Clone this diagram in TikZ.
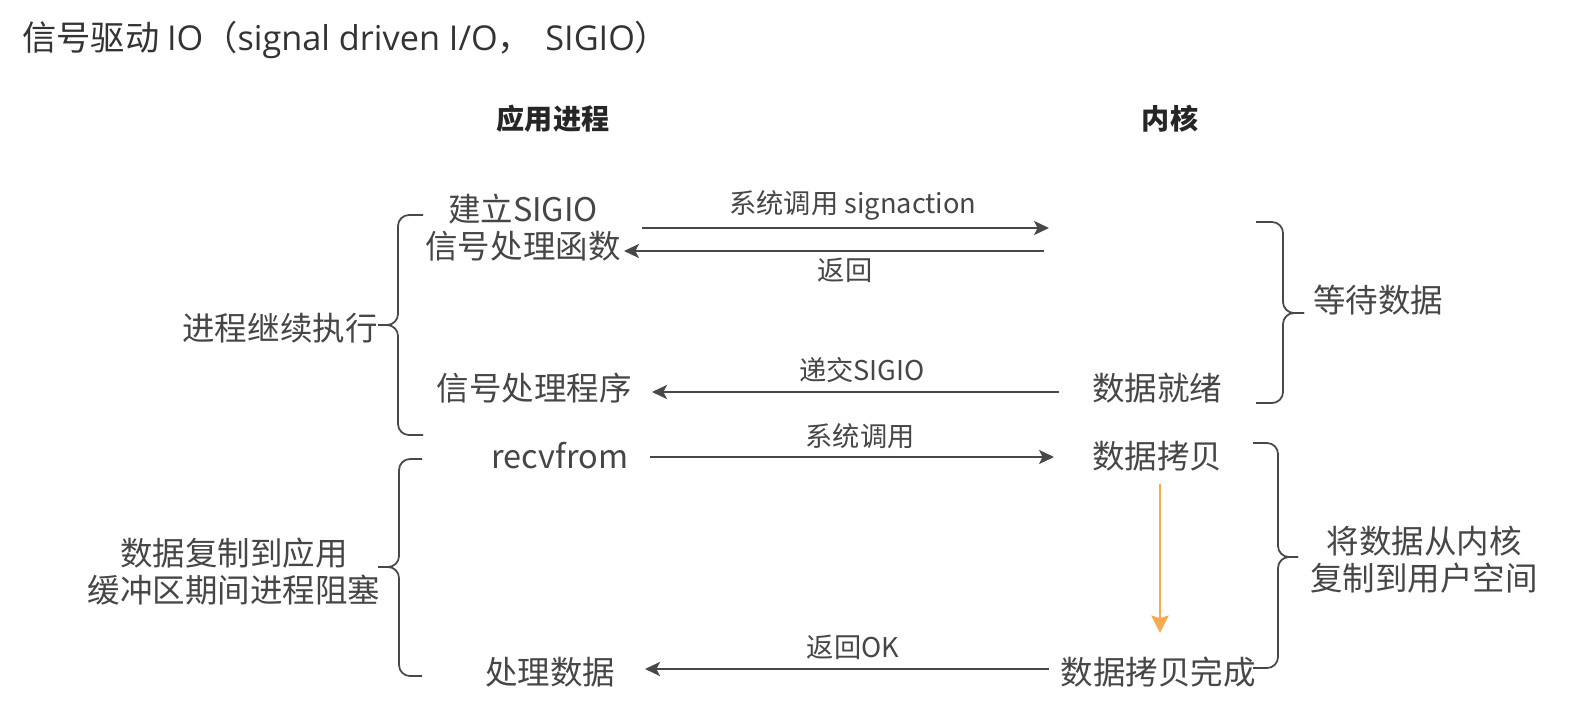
\documentclass[tikz,border=0pt]{standalone}
\usepackage{fontspec}
\setmainfont{Noto Sans CJK SC}
\newfontfamily\latinfont{Open Sans}
\usetikzlibrary{arrows.meta}
\definecolor{txtgray}{RGB}{70,70,70}
\definecolor{linegray}{RGB}{72,72,72}
\definecolor{cpyorange}{RGB}{246,170,82}

\begin{document}
\begin{tikzpicture}[x=0.02cm, y=-0.02cm,
    lbl/.style={text=txtgray, font=\fontsize{18.5pt}{21pt}\selectfont,
                align=center, inner sep=0pt},
    msg/.style={text=txtgray, font=\fontsize{15.5pt}{18pt}\selectfont, inner sep=0pt},
    colhead/.style={text=black!85, font=\fontsize{16pt}{18pt}\selectfont\bfseries,
                    inner sep=0pt},
    arr/.style={-{Stealth[length=8.5pt, width=8pt, inset=2pt]}, line width=1.1pt,
                draw=linegray},
    cpy/.style={-{Stealth[length=10pt, width=10pt, inset=1.5pt]}, line width=0.9pt,
                draw=cpyorange},
    brc/.style={rounded corners=0.22cm, line width=1pt, draw=linegray}
]
\useasboundingbox (0,0) rectangle (1581,727);

% Title
\node[text=black!80, font=\fontsize{19.5pt}{22pt}\selectfont, anchor=west, inner sep=0pt]
    (title) at (22, 40)
    {信号驱动 {\latinfont IO}（{\latinfont signal driven I/O}，\, {\latinfont SIGIO}）};

% Columns
\node[colhead] (app) at (553, 119) {应用进程};
\node[colhead] (kern) at (1170, 119) {内核};

% Application side
\node[lbl] (setup) at (523, 228) {建立SIGIO\\信号处理函数};
\node[lbl] (handler) at (534, 388) {信号处理程序};
\node[lbl] (recv) at (560, 456) {recvfrom};
\node[lbl] (proc) at (550, 672) {处理数据};

% Kernel side
\node[lbl] (ready) at (1157, 388) {数据就绪};
\node[lbl] (copy) at (1157, 456) {数据拷贝};
\node[lbl] (done) at (1158, 672) {数据拷贝完成};

% Side notes
\node[lbl] (cont) at (280, 328) {进程继续执行};
\node[lbl] (block) at (234, 572) {数据复制到应用\\缓冲区期间进程阻塞};
\node[lbl] (wait) at (1378, 300) {等待数据};
\node[lbl] (move) at (1424, 560) {将数据从内核\\复制到用户空间};

% Message ends
\coordinate (u1) at (642, 228);  \coordinate (k1) at (1049, 228);
\coordinate (k2) at (1044, 251); \coordinate (u2) at (624, 251);
\coordinate (k3) at (1059, 392); \coordinate (u3) at (652, 392);
\coordinate (u4) at (650, 457);  \coordinate (k4) at (1054, 457);
\coordinate (k5) at (1049, 669); \coordinate (u5) at (645, 669);
\coordinate (c1) at (1160, 484); \coordinate (c2) at (1160, 633);

% Arrows
\foreach \s/\e in {u1/k1, k2/u2, k3/u3, u4/k4, k5/u5} {
  \draw[arr] (\s) -- (\e);
}
\draw[cpy] (c1) -- (c2);

% Arrow labels
\node[msg] (m1) at (853, 205) {系统调用 signaction};
\node[msg] (m2) at (845, 270) {返回};
\node[msg] (m3) at (862, 370) {递交SIGIO};
\node[msg] (m4) at (860, 436) {系统调用};
\node[msg] (m5) at (853, 647) {返回OK};

% Braces
\foreach \xe/\xb/\xt/\ya/\ym/\yb in {423/398/378/215/325/435, 422/399/378/459/567/676,
                                     1256/1283/1304/222/313/403, 1253/1278/1298/443/557/668} {
  \draw[brc] (\xe, \ya) -| (\xb, \ym) -- (\xt, \ym);
  \draw[brc] (\xe, \yb) -| (\xb, \ym) -- (\xt, \ym);
}

\end{tikzpicture}
\end{document}
